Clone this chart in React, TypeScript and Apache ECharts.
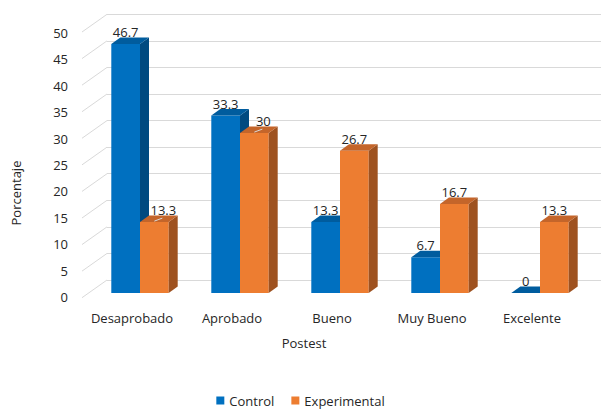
import { useEffect, useRef } from "react";
import * as echarts from "echarts";

const categories = ["Desaprobado", "Aprobado", "Bueno", "Muy Bueno", "Excelente"];
const controlValues = [46.7, 33.3, 13.3, 6.7, 0];
const experimentalValues = [13.3, 30, 26.7, 16.7, 13.3];
const seriesNames = ["Control", "Experimental"];
const yTicks = [0, 5, 10, 15, 20, 25, 30, 35, 40, 45, 50];

const FONT = "'Open Sans', sans-serif";
const TEXT = "#262626";
const GRIDLINE = "#D9D9D9";
const BAR_W = 28.7;
const DEPTH_X = 9;
const DEPTH_Y = 6.5;
const LABEL_SHIFT = 9;
const PALETTE = [
  { front: "#0070C0", top: "#005C9E", side: "#004A80" },
  { front: "#ED7D31", top: "#C4652A", side: "#9E5220" },
];

function makeBarSeries(s: number) {
  const values = s === 0 ? controlValues : experimentalValues;
  const others = s === 0 ? experimentalValues : controlValues;
  const c = PALETTE[s];
  return {
    type: "custom",
    name: seriesNames[s],
    xAxisIndex: 0,
    yAxisIndex: 0,
    clip: false,
    itemStyle: { color: c.front },
    data: values.map((v, i) => [i, v]),
    renderItem: (params: any, api: any) => {
      const idx = api.value(0);
      const val = api.value(1);
      const base = api.coord([idx, 0]);
      const top = api.coord([idx, val]);
      const cx = base[0];
      const x0 = s === 0 ? cx - BAR_W : cx;
      const x1 = x0 + BAR_W;
      const yb = base[1];
      const yt = top[1];
      const shift = s === 1 && others[idx] > val ? LABEL_SHIFT : 0;
      const children: any[] = [];
      if (yb - yt > 0.1) {
        children.push({
          type: "rect",
          shape: { x: x0, y: yt, width: BAR_W, height: yb - yt },
          style: { fill: c.front },
        });
        children.push({
          type: "polygon",
          shape: {
            points: [
              [x1, yt],
              [x1 + DEPTH_X, yt - DEPTH_Y],
              [x1 + DEPTH_X, yb - DEPTH_Y],
              [x1, yb],
            ],
          },
          style: { fill: c.side },
        });
      }
      children.push({
        type: "polygon",
        shape: {
          points: [
            [x0, yt],
            [x0 + DEPTH_X, yt - DEPTH_Y],
            [x1 + DEPTH_X, yt - DEPTH_Y],
            [x1, yt],
          ],
        },
        style: { fill: c.top },
      });
      if (shift) {
        children.push({
          type: "line",
          shape: { x1: x0 + BAR_W / 2, y1: yt - 1, x2: x0 + BAR_W / 2 + shift - 1, y2: yt - 4 },
          style: { stroke: "#D9D9D9", lineWidth: 1 },
        });
      }
      children.push({
        type: "text",
        style: {
          text: String(val),
          x: x0 + BAR_W / 2 + shift,
          y: yt - 12,
          align: "center",
          verticalAlign: "middle",
          fill: TEXT,
          font: `13px ${FONT}`,
        },
      });
      return { type: "group", children };
    },
  };
}

export default function App() {
  const ref = useRef<HTMLDivElement>(null);
  useEffect(() => {
    if (!ref.current) return;
    const chart = echarts.init(ref.current, null, { renderer: "svg" });
    const option: any = {
      animation: false,
      backgroundColor: "#ffffff",
      textStyle: { fontFamily: FONT },
      grid: [
        { left: 90, width: 500, top: 26.5, height: 266.5 },
        { left: 76, width: 1, top: 33, height: 264 },
        { left: 107, right: 0, top: 14.3, height: 265.7 },
      ],
      xAxis: [
        {
          type: "category",
          gridIndex: 0,
          data: categories,
          axisLine: { show: false },
          axisTick: { show: false },
          axisLabel: {
            interval: 0,
            margin: 18,
            padding: [0, 16, 0, 0],
            color: TEXT,
            fontSize: 13,
            fontFamily: FONT,
          },
        },
        { type: "value", gridIndex: 1, show: false, min: 0, max: 1 },
        { type: "value", gridIndex: 2, show: false, min: 0, max: 1 },
      ],
      yAxis: [
        { type: "value", gridIndex: 0, min: 0, max: 50, interval: 5, show: false },
        {
          type: "value",
          gridIndex: 1,
          min: 0,
          max: 50,
          interval: 5,
          axisLine: { show: false },
          axisTick: { show: false },
          splitLine: { show: false },
          axisLabel: { margin: 8, color: TEXT, fontSize: 13, fontFamily: FONT },
        },
        {
          type: "value",
          gridIndex: 2,
          min: 0,
          max: 50,
          interval: 5,
          axisLine: { show: false },
          axisTick: { show: false },
          axisLabel: { show: false },
          splitLine: { show: true, lineStyle: { color: GRIDLINE, width: 1 } },
        },
      ],
      legend: {
        data: seriesNames,
        top: 394,
        left: "center",
        padding: 0,
        icon: "rect",
        itemWidth: 8,
        itemHeight: 8,
        itemGap: 17,
        selectedMode: false,
        textStyle: { color: TEXT, fontSize: 13, fontFamily: FONT },
      },
      graphic: [
        {
          type: "text",
          x: 16,
          y: 193,
          rotation: Math.PI / 2,
          style: {
            text: "Porcentaje",
            align: "center",
            verticalAlign: "middle",
            fill: TEXT,
            font: `13px ${FONT}`,
          },
        },
        {
          type: "text",
          x: 304,
          y: 343,
          style: {
            text: "Postest",
            align: "center",
            verticalAlign: "middle",
            fill: TEXT,
            font: `13px ${FONT}`,
          },
        },
      ],
      series: [
        {
          type: "custom",
          xAxisIndex: 2,
          yAxisIndex: 2,
          clip: false,
          silent: true,
          z: 1,
          data: yTicks.map((v) => [0, v]),
          renderItem: (params: any, api: any) => {
            const p = api.coord([0, api.value(1)]);
            return {
              type: "line",
              shape: { x1: p[0] - 25, y1: p[1] + 17.7, x2: p[0], y2: p[1] },
              style: { stroke: GRIDLINE, lineWidth: 1 },
            };
          },
        },
        makeBarSeries(0),
        makeBarSeries(1),
      ],
    };
    chart.setOption(option);
    return () => chart.dispose();
  }, []);
  return (
    <div
      ref={ref}
      style={{ position: "fixed", left: 0, top: 0, width: 601, height: 409 }}
    />
  );
}
